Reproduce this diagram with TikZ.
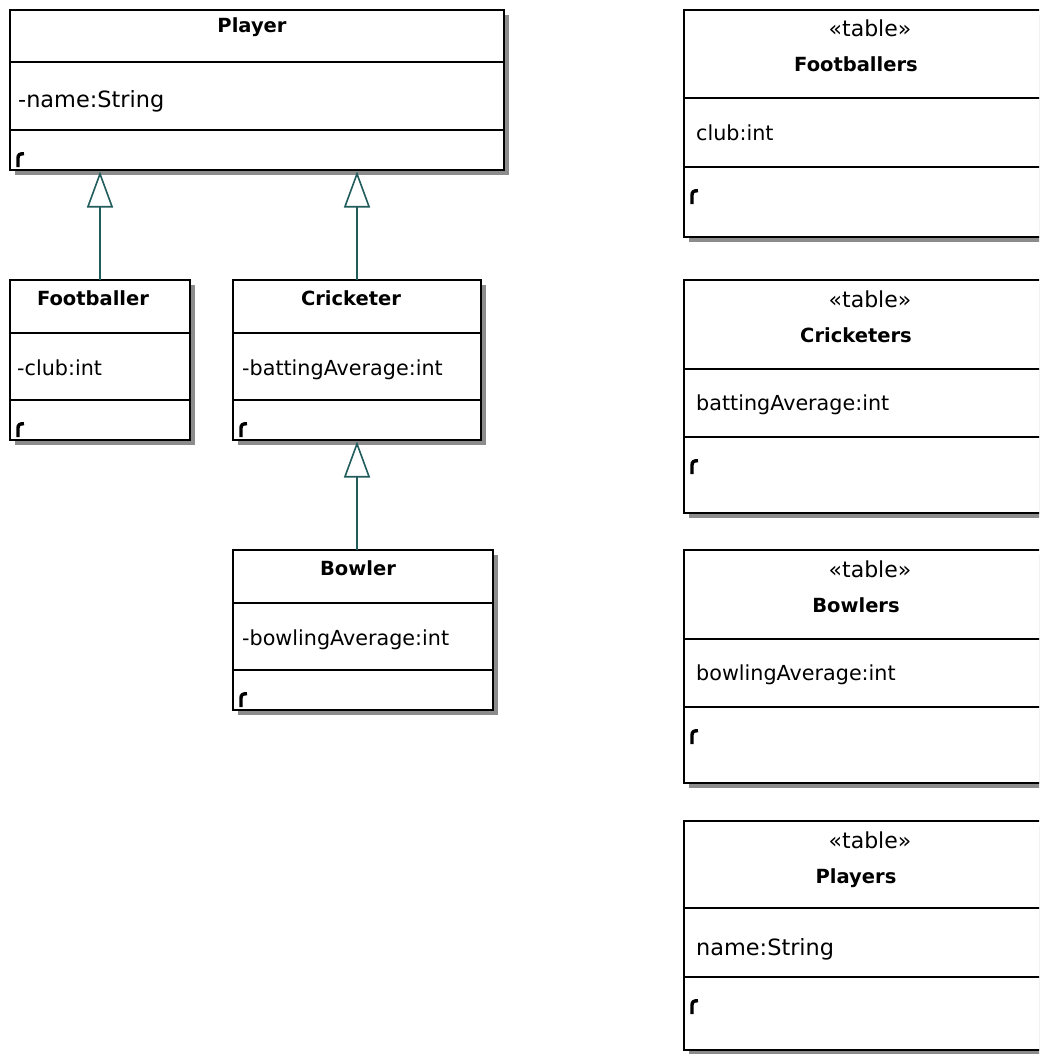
\documentclass[tikz,border=0pt]{standalone}
\usepackage{fontspec}
\setmainfont{DejaVu Sans}
\usetikzlibrary{arrows.meta}
\definecolor{gencol}{RGB}{33,92,92}
\definecolor{shadowcol}{RGB}{140,140,140}
\tikzset{
  classbox/.style={draw=black, line width=1.8pt, fill=white, inner sep=0pt, outer sep=0pt, anchor=north west},
  divider/.style={draw=black, line width=1.4pt},
  titletxt/.style={font=\bfseries\fontsize{19.5}{22}\selectfont, inner sep=0pt, anchor=base},
  attrtxt/.style={font=\fontsize{20.7}{24}\selectfont, inner sep=0pt, anchor=base west},
  bigattr/.style={font=\fontsize{22.4}{26}\selectfont, inner sep=0pt, anchor=base west},
  stereo/.style={font=\fontsize{22}{26}\selectfont, inner sep=0pt, anchor=base},
  genarrow/.style={draw=gencol, line width=1.6pt, shorten >=1.5pt,
    -{Triangle[open, length=36pt 0 0, width=26pt 0 0, fill=white]}},
  foldicon/.style={line width=3.4pt, line cap=butt}
}
% #1 name, #2 x, #3 y, #4 w, #5 h, #6 first divider, #7 second divider
\newcommand\myclassbox[7]{%
  \fill[shadowcol] (#2+5,#3+5) rectangle (#2+#4+5,#3+#5+5);
  \node[classbox, minimum width=#4pt, minimum height=#5pt] (#1) at (#2,#3) {};
  \draw[divider] (#2,#3+#6) -- (#2+#4,#3+#6);
  \draw[divider] (#2,#3+#7) -- (#2+#4,#3+#7);
  \draw[foldicon] (#2+8,#3+#7+37) -- (#2+8,#3+#7+28) .. controls (#2+8,#3+#7+24.5) and (#2+10,#3+#7+23.7) .. (#2+14,#3+#7+23.7);
}
\begin{document}
\begin{tikzpicture}[x=1pt,y=-1pt]
\useasboundingbox (0,0) rectangle (1039,1054);
\clip (0,0) rectangle (1039,1054);
\fill[white] (0,0) rectangle (1039,1054);

% ---- classes ----
\myclassbox{player}{10}{10}{494}{160}{52}{120}
\node[titletxt] (playerT) at (252,33) {Player};
\node[bigattr] (playerA) at (18,108) {-name:String};

\myclassbox{footballer}{10}{280}{180}{160}{53}{120}
\node[titletxt] (footballerT) at (93,305) {Footballer};
\node[attrtxt] (footballerA) at (17,375) {-club:int};

\myclassbox{cricketer}{233}{280}{248}{160}{53}{120}
\node[titletxt] (cricketerT) at (351,305) {Cricketer};
\node[attrtxt] (cricketerA) at (242,375) {-battingAverage:int};

\myclassbox{bowler}{233}{550}{260}{160}{53}{120}
\node[titletxt] (bowlerT) at (358,575) {Bowler};
\node[attrtxt] (bowlerA) at (242,645) {-bowlingAverage:int};

% ---- generalisations ----
\draw[genarrow] (footballer.north) -- (footballer.north |- player.south);
\draw[genarrow] (cricketer.north) -- (cricketer.north |- player.south);
\draw[genarrow] (bowler.north -| cricketer.north) -- (cricketer.south);

% ---- tables ----
\myclassbox{tfoot}{684}{10}{372}{227}{88}{157}
\node[stereo] (tfootS) at (870,37) {«table»};
\node[titletxt] (tfootT) at (856,72) {Footballers};
\node[attrtxt] (tfootA) at (696,140) {club:int};

\myclassbox{tcrick}{684}{280}{372}{233}{89}{157}
\node[stereo] (tcrickS) at (870,307) {«table»};
\node[titletxt] (tcrickT) at (856,342) {Cricketers};
\node[attrtxt] (tcrickA) at (696,410) {battingAverage:int};

\myclassbox{tbowl}{684}{550}{372}{233}{89}{157}
\node[stereo] (tbowlS) at (870,577) {«table»};
\node[titletxt] (tbowlT) at (856,612) {Bowlers};
\node[attrtxt] (tbowlA) at (696,680) {bowlingAverage:int};

\myclassbox{tplay}{684}{821}{372}{229}{87}{156}
\node[stereo] (tplayS) at (870,848) {«table»};
\node[titletxt] (tplayT) at (856,883) {Players};
\node[bigattr] (tplayA) at (696,955) {name:String};
\end{tikzpicture}
\end{document}
